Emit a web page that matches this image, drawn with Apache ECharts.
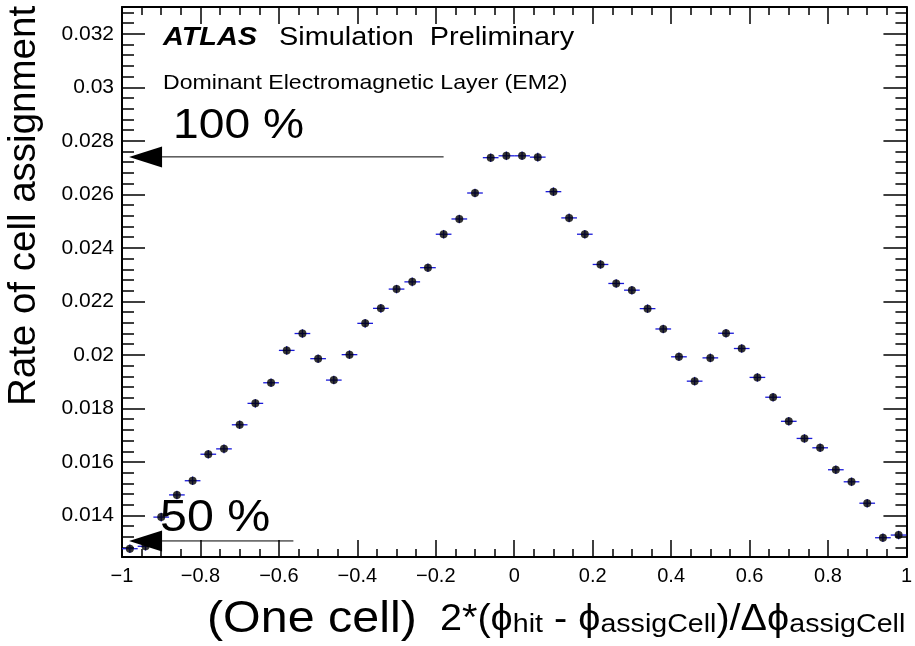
<!DOCTYPE html>
<html>
<head>
<meta charset="utf-8">
<script src="https://cdn.jsdelivr.net/npm/echarts@6/dist/echarts.min.js"></script>
<style>
html,body{margin:0;padding:0;background:#fff;}
#chart{width:915px;height:646px;}
</style>
</head>
<body>
<div id="chart"></div>
<script>
// ---- data ----
const binCenters = [-0.98,-0.94,-0.90,-0.86,-0.82,-0.78,-0.74,-0.70,-0.66,-0.62,
  -0.58,-0.54,-0.50,-0.46,-0.42,-0.38,-0.34,-0.30,-0.26,-0.22,
  -0.18,-0.14,-0.10,-0.06,-0.02,0.02,0.06,0.10,0.14,0.18,
  0.22,0.26,0.30,0.34,0.38,0.42,0.46,0.50,0.54,0.58,
  0.62,0.66,0.70,0.74,0.78,0.82,0.86,0.90,0.94,0.98];
const rates = [0.01276,0.01285,0.01394,0.01477,0.01530,0.01629,0.01649,0.01739,0.01819,0.01896,
  0.02017,0.02080,0.01986,0.01906,0.02001,0.02118,0.02174,0.02246,0.02273,0.02326,
  0.02451,0.02508,0.02605,0.02737,0.02744,0.02744,0.02739,0.02610,0.02512,0.02451,
  0.02338,0.02267,0.02242,0.02173,0.02097,0.01993,0.01902,0.01989,0.02081,0.02024,
  0.01916,0.01842,0.01752,0.01688,0.01653,0.01571,0.01526,0.01446,0.01317,0.01327];
const binHalfWidth = 0.02;
const rateErr = 0.00016;
const yMajorTicks = [0.014,0.016,0.018,0.020,0.022,0.024,0.026,0.028,0.030,0.032];
const yRange = [0.01245, 0.0330];
const xRange = [-1, 1];
const xTickStep = 0.2;
// annotation arrows: tail x, tip x, y level
const arrowTailX = [-0.18, -0.563];
const arrowTipX = [-0.982, -0.982];
const arrowY = [0.0274, 0.01305];

// minor y ticks (4 subdivisions between majors)
const yMinorTicks = [];
for (let i = -1; i < yMajorTicks.length; i++) {
  const base = i < 0 ? yMajorTicks[0] - 0.002 : yMajorTicks[i];
  for (let k = 1; k < 5; k++) {
    const v = +(base + k * 0.0004).toFixed(5);
    if (v > yRange[0] && v < yRange[1]) yMinorTicks.push(v);
  }
}

const FONT = "'Liberation Sans', Arial, Helvetica, sans-serif";
const chart = echarts.init(document.getElementById('chart'), null, {renderer: 'canvas'});

const frameLine = {show: true, onZero: false, lineStyle: {color: '#000', width: 2}};
const noLine = {show: false, onZero: false};
const xFmt = v => { const a = +Math.abs(v).toFixed(2); return (v < -1e-9 ? '\u2212' : '') + a; };
const yFmt = v => String(+v.toFixed(3));

const xBase = {type: 'value', min: xRange[0], max: xRange[1], interval: xTickStep,
  splitLine: {show: false}};
const yBase = {type: 'value', min: yRange[0], max: yRange[1], splitLine: {show: false}};
const tickStyle = {color: '#000', width: 1.5};

const option = {
  backgroundColor: '#fff',
  animation: false,
  grid: {left: 122, right: 5, top: 7, bottom: 89, containLabel: false},
  xAxis: [
    Object.assign({}, xBase, {position: 'bottom', axisLine: frameLine,
      axisTick: {inside: true, length: 17, lineStyle: tickStyle},
      minorTick: {show: true, splitNumber: 4, length: 8, lineStyle: tickStyle},
      axisLabel: {fontSize: 20, fontFamily: FONT, color: '#000', margin: 9, formatter: xFmt}}),
    Object.assign({}, xBase, {position: 'top', axisLine: frameLine,
      axisTick: {inside: true, length: 17, lineStyle: tickStyle},
      minorTick: {show: true, splitNumber: 4, length: 8, lineStyle: tickStyle},
      axisLabel: {show: false}})
  ],
  yAxis: [
    Object.assign({}, yBase, {position: 'left', axisLine: frameLine,
      axisTick: {inside: true, length: 23, customValues: yMajorTicks, lineStyle: tickStyle},
      axisLabel: {fontSize: 21, fontFamily: FONT, color: '#000', margin: 8, customValues: yMajorTicks, formatter: yFmt}}),
    Object.assign({}, yBase, {position: 'left', axisLine: noLine,
      axisTick: {inside: true, length: 12, customValues: yMinorTicks, lineStyle: tickStyle},
      axisLabel: {show: false}}),
    Object.assign({}, yBase, {position: 'right', axisLine: frameLine,
      axisTick: {inside: true, length: 23, customValues: yMajorTicks, lineStyle: tickStyle},
      axisLabel: {show: false}}),
    Object.assign({}, yBase, {position: 'right', axisLine: noLine,
      axisTick: {inside: true, length: 11, customValues: yMinorTicks, lineStyle: tickStyle},
      axisLabel: {show: false}})
  ],
  series: [
    {
      type: 'custom', xAxisIndex: 0, yAxisIndex: 0, z: 2,
      data: binCenters.map((x, i) => [x, rates[i]]),
      renderItem: function (params, api) {
        const x = api.value(0), y = api.value(1);
        const a = api.coord([x - binHalfWidth, y]);
        const b = api.coord([x + binHalfWidth, y]);
        const c = api.coord([x, y - rateErr]);
        const d = api.coord([x, y + rateErr]);
        const st = {stroke: '#1a1ad8', lineWidth: 1.3};
        return {type: 'group', children: [
          {type: 'line', shape: {x1: a[0], y1: a[1], x2: b[0], y2: b[1]}, style: st},
          {type: 'line', shape: {x1: c[0], y1: c[1], x2: d[0], y2: d[1]}, style: st}
        ]};
      }
    },
    {
      type: 'scatter', xAxisIndex: 0, yAxisIndex: 0, z: 3,
      symbol: 'circle', symbolSize: 8,
      itemStyle: {color: '#000'},
      data: binCenters.map((x, i) => [x, rates[i]])
    },
    {
      type: 'custom', xAxisIndex: 0, yAxisIndex: 0, z: 4, clip: false,
      data: arrowTailX.map((x, i) => [x, arrowTipX[i], arrowY[i]]),
      renderItem: function (params, api) {
        const tail = api.coord([api.value(0), api.value(2)]);
        const tip = api.coord([api.value(1), api.value(2)]);
        const headLen = 33, headHalf = 10.5;
        const baseX = tip[0] + headLen;
        return {type: 'group', children: [
          {type: 'line', shape: {x1: tail[0], y1: tail[1], x2: baseX, y2: tip[1]},
            style: {stroke: '#000', lineWidth: 1}},
          {type: 'polygon', shape: {points: [[tip[0], tip[1]], [baseX, tip[1] - headHalf], [baseX, tip[1] + headHalf]]},
            style: {fill: '#000'}}
        ]};
      }
    }
  ],
  graphic: [
    {type: 'text', x: 163, y: 38, scaleX: 1.11, z: 10,
      style: {text: 'ATLAS', font: 'italic bold 26px ' + FONT, fill: '#000', verticalAlign: 'middle', align: 'left'}},
    {type: 'text', x: 279, y: 38, scaleX: 1.11, z: 10,
      style: {text: 'Simulation  Preliminary', font: '26px ' + FONT, fill: '#000', verticalAlign: 'middle', align: 'left'}},
    {type: 'text', x: 163, y: 83, scaleX: 1.1, z: 10,
      style: {text: 'Dominant Electromagnetic Layer (EM2)', font: '21px ' + FONT, fill: '#000', verticalAlign: 'middle', align: 'left'}},
    {type: 'text', x: 173, y: 126, scaleX: 1.1, z: 10,
      style: {text: '100 %', font: '42px ' + FONT, fill: '#000', verticalAlign: 'middle', align: 'left'}},
    {type: 'text', x: 160, y: 519, scaleX: 1.1, z: 10,
      style: {text: '50 %', font: '44px ' + FONT, fill: '#000', verticalAlign: 'middle', align: 'left'}},
    {type: 'text', x: 24, y: 206, rotation: Math.PI / 2, z: 10,
      style: {text: 'Rate of cell assignment', font: '38.5px ' + FONT, fill: '#000', verticalAlign: 'middle', align: 'center'}},
    {type: 'text', x: 207, y: 620, scaleX: 1.1, z: 10,
      style: {text: '(One cell)', font: '44px ' + FONT, fill: '#000', verticalAlign: 'middle', align: 'left'}},
    {type: 'text', x: 440, y: 620, scaleX: 1.1, z: 10,
      style: {
        text: '{m|2*(\u03d5}{s|hit}{m| - \u03d5}{s|assigCell}{m|)/\u0394\u03d5}{s|assigCell}',
        verticalAlign: 'middle', align: 'left',
        rich: {
          m: {fontSize: 36, fontFamily: FONT, fill: '#000', verticalAlign: 'bottom'},
          s: {fontSize: 26, fontFamily: FONT, fill: '#000', verticalAlign: 'bottom'}
        }
      }}
  ]
};
chart.setOption(option);
</script>
</body>
</html>
